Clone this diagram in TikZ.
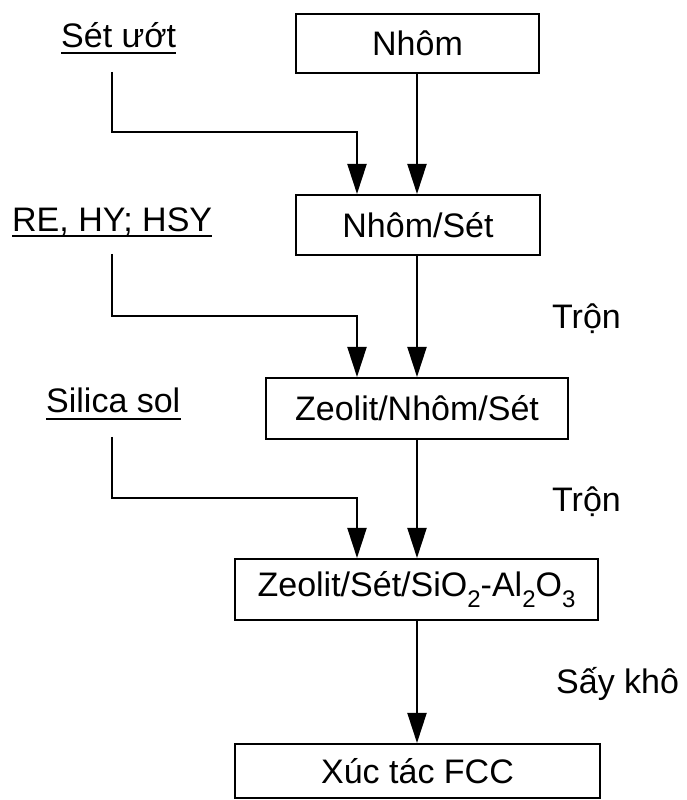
\documentclass[tikz,border=0pt]{standalone}
\usepackage{fontspec}
\setmainfont{Liberation Sans}
\usetikzlibrary{arrows.meta}
\newcommand{\mysub}[1]{\raisebox{-0.32em}{\fontsize{24}{24}\selectfont #1}}
\begin{document}
\begin{tikzpicture}[x=1pt,y=1pt,
  font=\fontsize{34}{40}\selectfont,
  boxnode/.style={draw,line width=2pt,minimum height=#1,inner sep=0pt,anchor=center},
  lbl/.style={inner sep=0pt,anchor=base west},
  arr/.style={line width=2pt,-{Triangle[length=30pt,width=19pt]}},
  uline/.style={line width=2.2pt}]
\useasboundingbox (0,0) rectangle (687,800);
\fill[white] (0,0) rectangle (687,800);
% boxes
\node[boxnode=59pt,minimum width=243pt] (nhom) at (417.5,756.5) {Nhôm};
\node[boxnode=60pt,minimum width=244pt] (nhomset) at (418,575) {Nhôm/Sét};
\node[boxnode=61pt,minimum width=302pt] (zns) at (417,391.5) {Zeolit/Nhôm/Sét};
\node[boxnode=61pt,minimum width=363pt] (zss) at (416.5,210.5) {Zeolit/Sét/SiO\mysub{2}-Al\mysub{2}O\mysub{3}};
\node[boxnode=54pt,minimum width=365pt] (fcc) at (417.5,29) {Xúc tác FCC};
% side labels
\node[lbl] (set) at (61,752) {Sét ướt};
\node[lbl] (re) at (12,568) {RE, HY; HSY};
\node[lbl] (sil) at (46,387) {Silica sol};
\node[lbl] (tron1) at (552,471) {Trộn};
\node[lbl] (tron2) at (552,288) {Trộn};
\node[lbl] (say) at (556,106) {Sấy khô};
% underlines
\draw[uline] ([yshift=-5pt]set.base west) -- ([yshift=-5pt]set.base east);
\draw[uline] ([yshift=-4pt]re.base west) -- ([yshift=-4pt]re.base east);
\draw[uline] ([yshift=-6pt]sil.base west) -- ([yshift=-6pt]sil.base east);
% connector coordinates
\coordinate (s1) at (112,728);
\coordinate (k1) at (357,668);
\coordinate (s2) at (112,546);
\coordinate (k2) at (357,484);
\coordinate (s3) at (112,363);
\coordinate (k3) at (357,302);
% main flow
\draw[arr] (nhom.south -| 417,0) -- (nhomset.north -| 417,0);
\draw[arr] (nhomset.south -| 417,0) -- (zns.north -| 417,0);
\draw[arr] (zns.south -| 417,0) -- (zss.north -| 417,0);
\draw[arr] (zss.south -| 417,0) -- (fcc.north -| 417,0);
% side inputs
\draw[arr] (s1) |- (k1) -- (k1 |- nhomset.north);
\draw[arr] (s2) |- (k2) -- (k2 |- zns.north);
\draw[arr] (s3) |- (k3) -- (k3 |- zss.north);
\end{tikzpicture}
\end{document}
